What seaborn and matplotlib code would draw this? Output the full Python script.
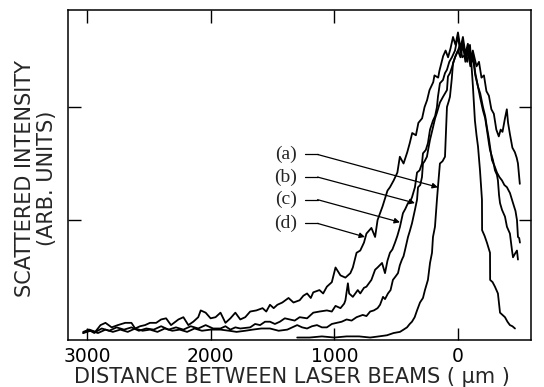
import matplotlib
matplotlib.use("Agg")
import pandas as pd
import seaborn as sns
import matplotlib.pyplot as plt

# distance between laser beams (um) and scattered intensity (arb. units, tick = 100)
d_x = [3030, 2990, 2940, 2890, 2850, 2800, 2750, 2690, 2640, 2610, 2570, 2530, 2490, 2440, 2400,
       2360, 2320, 2260, 2220, 2180, 2140, 2100, 2080, 2040, 2000, 1960, 1920, 1880, 1840, 1800,
       1760, 1720, 1680, 1630, 1580, 1550, 1520, 1490, 1460, 1420, 1370, 1330, 1280, 1250, 1220,
       1190, 1170, 1120, 1090, 1060, 1020, 990, 950, 910, 870, 850, 820, 790, 760, 740,
       700, 670, 650, 610, 570, 550, 520, 490, 470, 440, 410, 390, 370, 340, 320,
       290, 270, 250, 230, 200, 190, 160, 150, 120, 100, 80, 60, 40, 20, 0,
       -20, -40, -60, -80, -100, -120, -150, -170, -190, -210, -230, -250, -270, -290, -310,
       -330, -345, -360, -380, -395, -405, -420, -440, -460, -475, -485, -495, -500]
d_y = [0, 3, 0, 7, 9, 5, 7, 9, 9, 4, 6, 7, 9, 9, 12,
       13, 7, 12, 14, 7, 10, 14, 20, 18, 13, 14, 18, 9, 13, 18,
       12, 14, 19, 20, 22, 19, 25, 22, 25, 27, 31, 27, 29, 33, 35,
       31, 36, 38, 35, 41, 45, 58, 51, 49, 53, 58, 71, 73, 80, 88,
       93, 85, 100, 112, 126, 129, 135, 142, 156, 150, 160, 168, 177, 175, 186,
       190, 200, 206, 215, 222, 228, 226, 232, 245, 250, 244, 252, 262, 255, 266,
       252, 262, 247, 256, 243, 250, 236, 240, 226, 228, 214, 210, 198, 194, 180,
       174, 180, 178, 190, 198, 186, 176, 164, 160, 155, 150, 138, 132]

c_x = [3030, 2980, 2930, 2880, 2820, 2760, 2700, 2640, 2580, 2520, 2460, 2400, 2340, 2280, 2220,
       2160, 2100, 2040, 1980, 1920, 1880, 1840, 1800, 1760, 1680, 1640, 1600, 1560, 1520, 1480,
       1440, 1400, 1360, 1320, 1280, 1220, 1170, 1120, 1060, 1020, 990, 950, 920, 910, 890,
       880, 850, 810, 790, 760, 740, 700, 670, 650, 614, 590, 570, 550, 530, 509,
       490, 469, 445, 425, 404, 380, 372, 348, 331, 310, 291, 283, 260, 243, 226,
       202, 185, 170, 162, 146, 121, 105, 89, 70, 49, 24, 10, 0, -20, -40,
       -60, -80, -100, -121, -140, -162, -180, -202, -220, -234, -250, -259, -275, -295, -315,
       -335, -356, -375, -396, -410, -420, -445, -465, -477, -485, -495, -501]
c_y = [1, 3, 1, 4, 2, 5, 3, 5, 2, 4, 3, 6, 3, 5, 3,
       6, 4, 7, 4, 4, 6, 3, 5, 4, 5, 8, 7, 10, 10, 8,
       10, 13, 12, 11, 14, 13, 18, 19, 20, 19, 24, 22, 26, 29, 44,
       35, 32, 38, 35, 40, 41, 47, 56, 58, 62, 53, 64, 71, 74, 80,
       86, 94, 106, 110, 115, 118, 120, 129, 142, 144, 150, 159, 162, 168, 180,
       188, 192, 200, 209, 221, 224, 230, 233, 240, 244, 250, 258, 262, 248, 258,
       244, 252, 240, 248, 230, 218, 212, 200, 192, 182, 172, 165, 153, 148, 142,
       138, 135, 131, 129, 126, 124, 115, 108, 100, 85, 84, 80]

b_x = [3030, 2970, 2910, 2850, 2790, 2730, 2670, 2610, 2550, 2490, 2430, 2370, 2310, 2250, 2190,
       2130, 2070, 2000, 1920, 1850, 1790, 1720, 1660, 1590, 1520, 1450, 1380, 1340, 1300, 1260,
       1220, 1180, 1140, 1100, 1060, 1020, 980, 940, 900, 860, 820, 770, 740, 710, 680,
       650, 630, 606, 590, 566, 545, 526, 505, 485, 470, 453, 440, 429, 404, 390,
       372, 348, 331, 323, 305, 291, 283, 270, 251, 238, 226, 202, 185, 170, 146,
       121, 105, 89, 81, 65, 49, 24, 0, -20, -40, -60, -80, -100, -121, -140,
       -162, -180, -202, -220, -234, -250, -259, -283, -299, -315, -323, -332, -340, -356, -380,
       -396, -420, -437, -445, -460, -477, -485]
b_y = [0, 2, 0, 3, 1, 3, 1, 4, 2, 3, 1, 4, 2, 3, 1,
       4, 2, 3, 3, 2, 1, 2, 3, 4, 4, 2, 3, 5, 7, 5,
       4, 6, 7, 5, 5, 8, 9, 10, 12, 11, 14, 16, 15, 19, 20,
       22, 25, 32, 30, 35, 38, 47, 50, 53, 60, 65, 68, 73, 85, 90,
       97, 109, 118, 129, 131, 138, 150, 152, 156, 164, 171, 182, 190, 195, 204,
       209, 212, 215, 227, 230, 235, 244, 250, 244, 255, 240, 250, 236, 244, 228,
       218, 208, 197, 190, 180, 168, 162, 153, 144, 140, 135, 122, 115, 109, 103,
       94, 88, 73, 67, 70, 73, 65]

a_x = [1300, 1200, 1100, 1000, 900, 800, 710, 640, 574, 520, 469, 440, 412, 390, 372,
       350, 331, 307, 283, 267, 243, 226, 210, 202, 186, 170, 162, 146, 125, 105,
       89, 75, 65, 50, 40, 20, 0, -16, -35, -57, -75, -97, -110, -121, -137,
       -150, -162, -178, -194, -195, -215, -234, -259, -260, -280, -299, -323, -340, -360, -380,
       -400, -420, -440, -461]
a_y = [-4, -4, -3, -4, -3, -3, -4, -3, -2, 0, 1, 3, 5, 8, 10,
       14, 20, 27, 31, 38, 47, 62, 71, 85, 94, 118, 129, 150, 152, 156,
       200, 205, 209, 225, 239, 245, 250, 255, 244, 246, 240, 255, 236, 218, 188,
       175, 165, 144, 118, 91, 86, 80, 71, 47, 45, 41, 35, 18, 16, 14,
       10, 7, 6, 4]

labels = ["(a)", "(b)", "(c)", "(d)"]
# label height and arrow tip of each curve
label_y = [158, 138, 118, 97]
tip_x = [162, 348, 469, 752]
tip_y = [129, 115, 98, 85]

df = pd.concat([
    pd.DataFrame({"um": a_x, "intensity": a_y, "curve": "a"}),
    pd.DataFrame({"um": b_x, "intensity": b_y, "curve": "b"}),
    pd.DataFrame({"um": c_x, "intensity": c_y, "curve": "c"}),
    pd.DataFrame({"um": d_x, "intensity": d_y, "curve": "d"}),
], ignore_index=True)

sns.set_style("ticks")
plt.rcParams['font.family'] = ['DejaVu Sans']

fig = plt.figure(figsize=(5.44, 3.87), dpi=100)
ax = fig.add_axes([0.125, 0.1214, 0.851, 0.8526])

sns.lineplot(data=df, x="um", y="intensity", hue="curve", units="curve",
             palette=["black"] * 4, estimator=None, sort=False, legend=False,
             linewidth=1.3, ax=ax)

ax.set_xlim(3153, -590)
ax.set_ylim(-6.2, 285.8)
ax.set_xticks([3000, 2000, 1000, 0])
ax.set_xticklabels(["3000", "2000", "1000", "0"], fontsize=13.5)
ax.set_yticks([100, 200])
ax.set_yticklabels([])
ax.tick_params(axis="both", direction="in", length=9, width=1.0,
               top=True, right=True, pad=5, colors="black")
for s in ax.spines.values():
    s.set_linewidth(1.1)
    s.set_color("black")

ax.set_xlabel("")
ax.set_ylabel("")
fig.text(0.537, 0.026, "DISTANCE BETWEEN LASER BEAMS ( μm )", ha="center", va="center", fontsize=15)
fig.text(0.046, 0.54, "SCATTERED INTENSITY", rotation=90, ha="center", va="center", fontsize=15)
fig.text(0.086, 0.54, "(ARB. UNITS)", rotation=90, ha="center", va="center", fontsize=15)

for lab, ly, tx, ty in zip(labels, label_y, tip_x, tip_y):
    ax.text(1390, ly, lab, family="Liberation Serif", fontsize=14, ha="center", va="center")
    ax.plot([1240, 1135], [ly, ly], color="black", lw=0.9)
    ax.annotate("", xy=(tx, ty), xytext=(1135, ly),
                arrowprops=dict(arrowstyle="-|>", color="black", lw=0.9,
                                mutation_scale=8, shrinkA=0, shrinkB=0))

fig.savefig("out.png", dpi=100)
